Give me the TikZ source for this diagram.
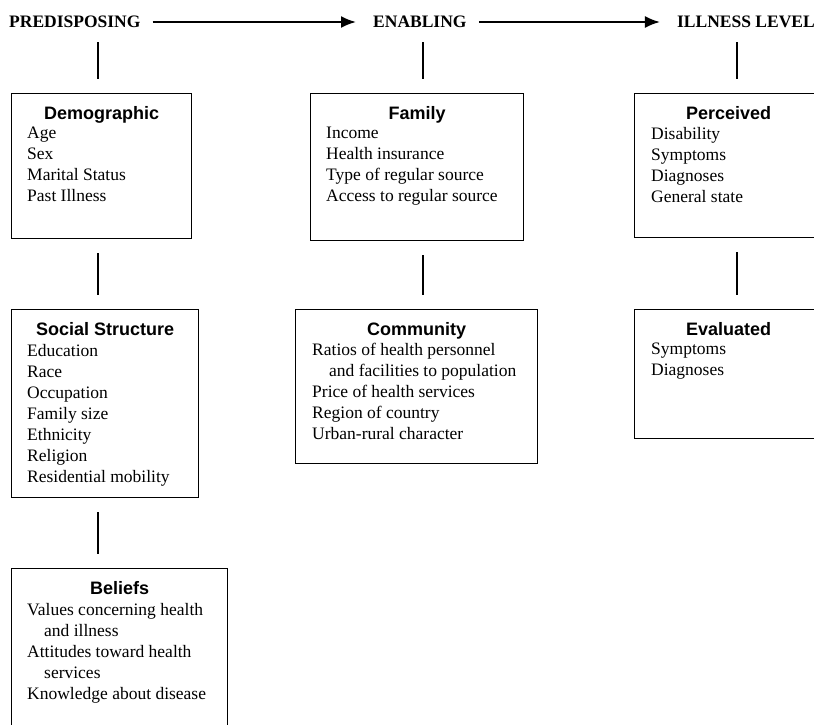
\documentclass[tikz,border=0pt]{standalone}
\usepackage{fontspec}
\setmainfont{Liberation Serif}
\setsansfont{Liberation Sans}
\usetikzlibrary{arrows.meta}
\tikzset{
  box/.style={draw,line width=1.1pt,inner sep=0pt,anchor=north west},
  head/.style={font=\fontsize{17.5}{21}\selectfont\bfseries,inner sep=0pt},
  ttl/.style={font=\fontsize{18}{21}\selectfont\sffamily\bfseries,inner sep=0pt,anchor=north},
  body/.style={font=\fontsize{17.5}{21}\selectfont,inner sep=0pt,align=left,anchor=north west},
  link/.style={line width=2pt,shorten <=14pt,shorten >=14pt},
  flow/.style={line width=2pt,-{Latex[length=15pt,width=12pt]},shorten <=12pt,shorten >=17pt}
}
\newcommand{\ind}{\hspace*{17pt}}
\begin{document}
\begin{tikzpicture}[x=1pt,y=-1pt]
  \useasboundingbox (0,0) rectangle (814,724);
  \clip (0,0) rectangle (814,724);
  % column lines
  \coordinate (c1) at (98,0);
  \coordinate (c2) at (423,0);
  \coordinate (c3) at (737,0);
  % headings
  \node[head,anchor=west] (predis) at (9,22) {PREDISPOSING};
  \node[head,anchor=west] (enab) at (373,22) {ENABLING};
  \node[head,anchor=east] (ill) at (815,22) {ILLNESS LEVEL};
  \draw[flow] (predis.east) -- (enab.west);
  \draw[flow] (enab.east) -- (ill.west);
  % boxes
  \node[box,minimum width=180pt,minimum height=145pt] (demog) at (11,93) {};
  \node[box,minimum width=213pt,minimum height=147pt] (family) at (310,93) {};
  \node[box,minimum width=188pt,minimum height=144pt] (perc) at (634,93) {};
  \node[box,minimum width=187pt,minimum height=188pt] (social) at (11,309) {};
  \node[box,minimum width=242pt,minimum height=154pt] (comm) at (295,309) {};
  \node[box,minimum width=188pt,minimum height=129pt] (eval) at (634,309) {};
  \node[box,minimum width=216pt,minimum height=200pt] (belief) at (11,568) {};
  % titles
  \node[ttl] (demogT) at ([yshift=-13pt]demog.north) {Demographic};
  \node[ttl] (familyT) at ([yshift=-13pt]family.north) {Family};
  \node[ttl] (percT) at ([yshift=-13pt]perc.north) {Perceived};
  \node[ttl] (socialT) at ([yshift=-13pt]social.north) {Social Structure};
  \node[ttl] (commT) at ([yshift=-13pt]comm.north) {Community};
  \node[ttl] (evalT) at ([yshift=-13pt]eval.north) {Evaluated};
  \node[ttl] (beliefT) at ([yshift=-13pt]belief.north) {Beliefs};
  % items
  \node[body] (demogB) at ([xshift=16pt,yshift=-34pt]demog.north west)
    {Age\\Sex\\Marital Status\\Past Illness};
  \node[body] (familyB) at ([xshift=16pt,yshift=-34pt]family.north west)
    {Income\\Health insurance\\Type of regular source\\Access to regular source};
  \node[body] (percB) at ([xshift=17pt,yshift=-34pt]perc.north west)
    {Disability\\Symptoms\\Diagnoses\\General state};
  \node[body] (socialB) at ([xshift=16pt,yshift=-35pt]social.north west)
    {Education\\Race\\Occupation\\Family size\\Ethnicity\\Religion\\Residential mobility};
  \node[body] (commB) at ([xshift=17pt,yshift=-34pt]comm.north west)
    {Ratios of health personnel\\\ind and facilities to population\\Price of health services\\Region of country\\Urban-rural character};
  \node[body] (evalB) at ([xshift=17pt,yshift=-34pt]eval.north west)
    {Symptoms\\Diagnoses};
  \node[body] (beliefB) at ([xshift=16pt,yshift=-35pt]belief.north west)
    {Values concerning health\\\ind and illness\\Attitudes toward health\\\ind services\\Knowledge about disease};
  % links
  \draw[link] (predis.south -| c1) -- (demog.north -| c1);
  \draw[link] (enab.south -| c2) -- (family.north -| c2);
  \draw[link] (ill.south -| c3) -- (perc.north -| c3);
  \draw[link] (demog.south -| c1) -- (social.north -| c1);
  \draw[link] (family.south -| c2) -- (comm.north -| c2);
  \draw[link] (perc.south -| c3) -- (eval.north -| c3);
  \draw[link] (social.south -| c1) -- (belief.north -| c1);
\end{tikzpicture}
\end{document}
